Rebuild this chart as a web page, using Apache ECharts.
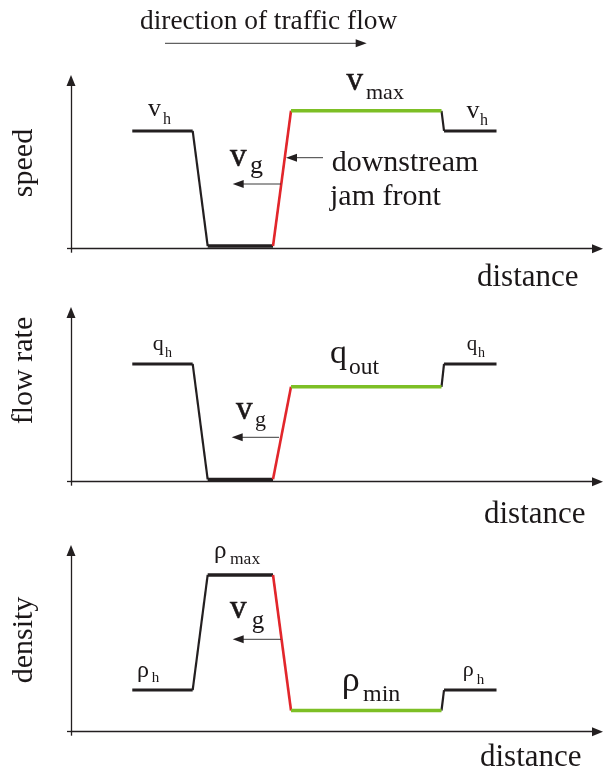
<!DOCTYPE html>
<html>
<head>
<meta charset="utf-8">
<script src="https://cdn.jsdelivr.net/npm/echarts@6/dist/echarts.min.js"></script>
<style>
  html, body { margin: 0; padding: 0; background: #fff; }
  #chart { width: 603px; height: 771px; }
</style>
</head>
<body>
<div id="chart"></div>
<script>
// Breakpoints along the road (0..100 distance units) and the profile levels (0..100 of each axis)
const distance = [11.64, 23.11, 25.96, 38.37, 41.79, 70.37, 70.85, 80.82];
const speed    = [70.0, 70.0, 1.6, 1.6, 82.0, 82.0, 70.0, 70.0];
const flowRate = [69.6, 69.6, 1.4, 1.4, 56.1, 56.1, 69.6, 69.6];
const density  = [23.0, 23.0, 86.5, 86.5, 11.7, 11.7, 23.0, 23.0];
const axisNames = ['speed', 'flow rate', 'density'];

// Look of each piece between consecutive breakpoints
const INK = '#231f20';
const TEXT = '#1b1718';
const RED = '#e2262b';
const GREEN = '#7dbf25';
const segColor = [INK, INK, INK, RED, GREEN, INK, INK];
const segWidth = [3, 2.2, 3.4, 2.6, 3.4, 2.2, 3];

// Panel frames: top of the value axis line and its length
const panels = [
  { top: 80.5, height: 168.2 },
  { top: 312.5, height: 169.2 },
  { top: 550.5, height: 181.2 }
];
const profiles = [speed, flowRate, density];

const chart = echarts.init(document.getElementById('chart'), null, { renderer: 'canvas' });

const axisLine = {
  show: true,
  symbol: ['none', 'triangle'],
  symbolSize: [9, 11],
  lineStyle: { color: INK, width: 1.3 }
};

const grids = [], xAxes = [], yAxes = [], series = [];
panels.forEach(function (p, k) {
  grids.push({ left: 71, width: 526.5, top: p.top, height: p.height, containLabel: false });
  xAxes.push({
    type: 'value', gridIndex: k, min: 0, max: 100,
    axisLine: axisLine,
    axisTick: { show: true, customValues: [0], length: 4, lineStyle: { color: INK, width: 1.3 } },
    axisLabel: { show: false }, splitLine: { show: false }
  });
  yAxes.push({
    type: 'value', gridIndex: k, min: 0, max: 100,
    axisLine: axisLine,
    axisTick: { show: true, customValues: [0], length: 4, lineStyle: { color: INK, width: 1.3 } },
    axisLabel: { show: false }, splitLine: { show: false }
  });
  const vals = profiles[k];
  for (let i = 0; i < distance.length - 1; i++) {
    series.push({
      type: 'line', xAxisIndex: k, yAxisIndex: k,
      data: [[distance[i], vals[i]], [distance[i + 1], vals[i + 1]]],
      symbol: 'none', silent: true,
      z: segColor[i] === INK ? 2 : 3,
      lineStyle: { color: segColor[i], width: segWidth[i], cap: 'butt', join: 'miter' }
    });
  }
});

const FONT = '"Liberation Serif", "Times New Roman", serif';
function txt(x, base, s, size, heavy) {
  return {
    type: 'text', x: x, y: base - 0.3375 * size, z: 10,
    style: {
      text: s, font: size + 'px ' + FONT, fill: TEXT,
      stroke: heavy ? TEXT : null, lineWidth: heavy ? 0.6 : 0,
      align: 'left', verticalAlign: 'middle', textAlign: 'left', textVerticalAlign: 'middle'
    }
  };
}
function vtxt(cx, cy, s, size) {
  return {
    type: 'text', x: cx, y: cy, rotation: Math.PI / 2, z: 10,
    style: {
      text: s, font: size + 'px ' + FONT, fill: TEXT,
      align: 'center', verticalAlign: 'middle', textAlign: 'center', textVerticalAlign: 'middle'
    }
  };
}
function arrowLeft(xTip, xEnd, y) {
  return [
    { type: 'line', z: 9, shape: { x1: xTip + 8, y1: y, x2: xEnd, y2: y }, style: { stroke: '#3a3a3a', lineWidth: 1 } },
    { type: 'polygon', z: 9, shape: { points: [[xTip, y], [xTip + 11, y - 4], [xTip + 11, y + 4]] }, style: { fill: INK } }
  ];
}
function arrowRight(xStart, xTip, y) {
  return [
    { type: 'line', z: 9, shape: { x1: xStart, y1: y, x2: xTip - 8, y2: y }, style: { stroke: '#3a3a3a', lineWidth: 1 } },
    { type: 'polygon', z: 9, shape: { points: [[xTip, y], [xTip - 11, y - 4], [xTip - 11, y + 4]] }, style: { fill: INK } }
  ];
}

const graphics = [].concat(
  // heading
  [txt(140, 30.7, 'direction of traffic flow', 27.4)],
  arrowRight(165, 366.7, 43.3),

  // speed panel
  [vtxt(24, 163, axisNames[0], 30),
   txt(148, 118.3, 'v', 26), txt(163, 125, 'h', 16),
   txt(346.5, 92, 'v', 33, true), txt(366, 100.7, 'max', 22),
   txt(466.5, 120, 'v', 26), txt(480, 126.5, 'h', 16),
   txt(230, 168.3, 'v', 33, true), txt(250, 175, 'g', 26),
   txt(331.7, 173, 'downstream', 30), txt(330, 207.6, 'jam front', 30),
   txt(477, 288, 'distance', 31)],
  arrowLeft(232.7, 281, 184),
  arrowLeft(286, 323, 157.7),

  // flow rate panel
  [vtxt(24, 370.5, axisNames[1], 30),
   txt(152.7, 352, 'q', 22), txt(165, 358.3, 'h', 14),
   txt(330, 365.6, 'q', 34), txt(349, 375.7, 'out', 23.5),
   txt(466.7, 351.4, 'q', 21), txt(478, 358, 'h', 14),
   txt(236, 421.7, 'v', 33, true), txt(255, 428, 'g', 22),
   txt(484, 525, 'distance', 31)],
  arrowLeft(231.7, 279, 437.3),

  // density panel
  [vtxt(24, 640, axisNames[2], 30),
   txt(137, 679, 'ρ', 24), txt(151.7, 683, 'h', 15),
   txt(214, 559.5, 'ρ', 25), txt(230, 565, 'max', 17.5),
   txt(230, 620, 'v', 33, true), txt(251.7, 629.5, 'g', 25),
   txt(341.7, 693.2, 'ρ', 36), txt(363, 703.3, 'min', 24),
   txt(462.7, 678, 'ρ', 22), txt(476.7, 685, 'h', 15),
   txt(480, 768, 'distance', 31)],
  arrowLeft(232.7, 281, 639.3)
);

chart.setOption({
  animation: false,
  backgroundColor: '#ffffff',
  grid: grids,
  xAxis: xAxes,
  yAxis: yAxes,
  series: series,
  graphic: { elements: graphics }
});
</script>
</body>
</html>
